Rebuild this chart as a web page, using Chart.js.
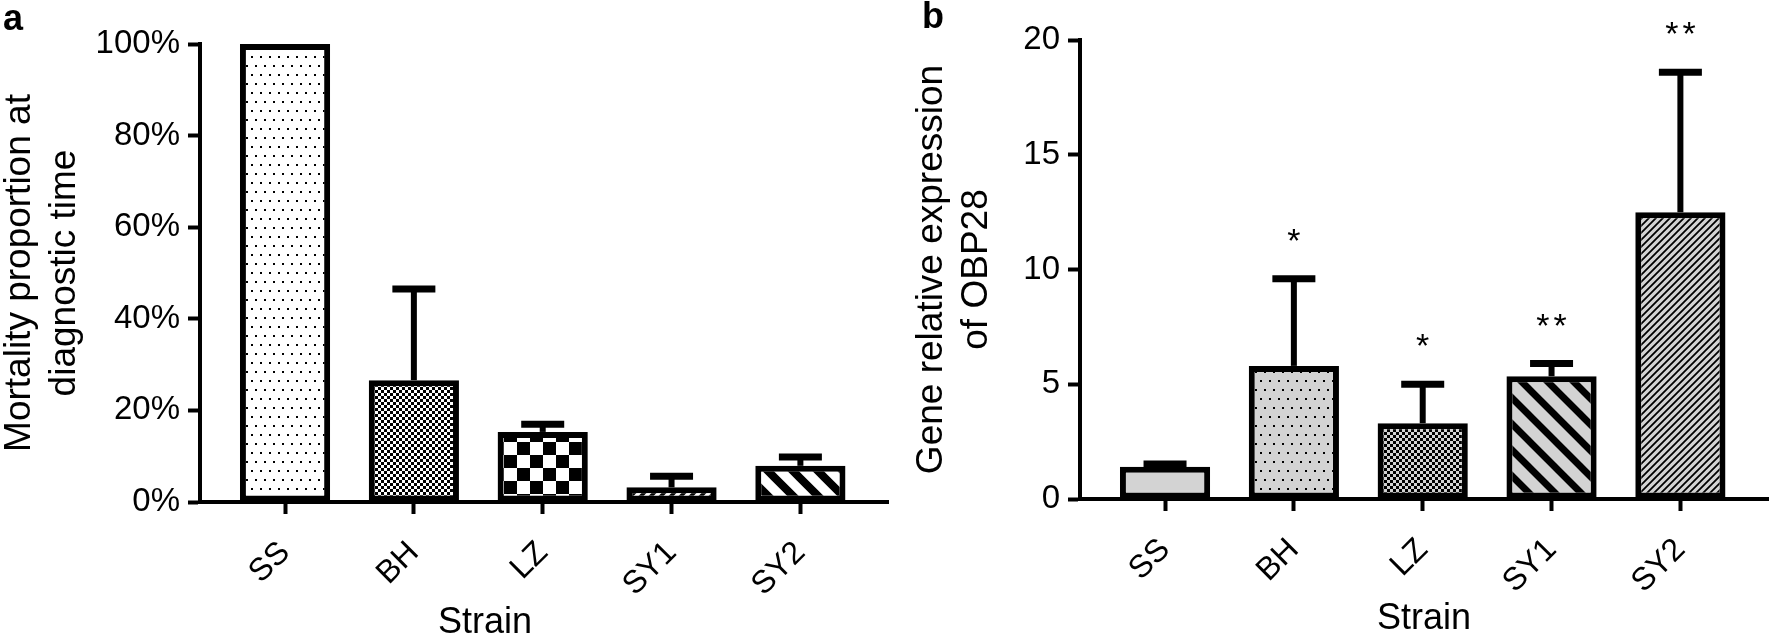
<!DOCTYPE html>
<html lang="en">
<head>
<meta charset="utf-8" />
<title>Mortality and OBP28 expression by strain</title>
<script src="https://cdn.jsdelivr.net/npm/chart.js@4.4.1/dist/chart.umd.min.js"></script>
<style>
  html, body { margin: 0; padding: 0; background: #fff; overflow: hidden; }
  #panelA { position: absolute; left: -3px; top: 0; }
  #panelB { position: absolute; left: 880px; top: 0; }
</style>
</head>
<body>
<canvas id="panelA" width="894" height="639"></canvas>
<canvas id="panelB" width="890" height="639"></canvas>
<script>
// data
const strains = ['SS', 'BH', 'LZ', 'SY1', 'SY2'];

const mortality = [100, 26.6, 15.3, 3.2, 7.9];
const mortalityErr = [0, 19.9, 1.7, 2.4, 1.9];
const mortalityTicks = [0, 20, 40, 60, 80, 100];

const expression = [1.4, 5.8, 3.3, 5.35, 12.5];
const expressionErr = [0.12, 3.8, 1.7, 0.55, 6.1];
const expressionTicks = [0, 5, 10, 15, 20];
const significance = ['', '*', '*', '**', '**'];

const FONT = '"Liberation Sans", Arial, Helvetica, sans-serif';
Chart.defaults.font.family = FONT;
Chart.defaults.color = '#000';

const GRAY = '#d3d3d3';

// ---- fill patterns ----
function makePattern(ctx, w, h, bg, draw) {
  const c = document.createElement('canvas');
  c.width = w; c.height = h;
  const g = c.getContext('2d');
  g.fillStyle = bg;
  g.fillRect(0, 0, w, h);
  g.fillStyle = '#000';
  g.strokeStyle = '#000';
  if (draw) draw(g, w, h);
  return ctx.createPattern(c, 'repeat');
}

function dots(g) {
  [[2, 2], [11, 2], [6, 11], [15, 11]].forEach(p => g.fillRect(p[0], p[1], 2, 2));
}

function checks(cell) {
  return g => {
    g.fillRect(0, 0, cell, cell);
    g.fillRect(cell, cell, cell, cell);
  };
}

// diagonal lines, drawn past the tile edges so the corners join up
function stripes(dir, lw) {
  return (g, w, h) => {
    g.lineWidth = lw;
    g.beginPath();
    for (let k = -1; k <= 1; k++) {
      if (dir === '/') { g.moveTo(k * w - w, 2 * h); g.lineTo(k * w + 2 * w, -h); }
      else { g.moveTo(k * w - w, -h); g.lineTo(k * w + 2 * w, 2 * h); }
    }
    g.stroke();
  };
}

// ---- helpers shared by both panels ----
function errorBars(values, errs, marks) {
  return {
    id: 'errorBars',
    afterDatasetsDraw(chart) {
      const { ctx, scales: { x, y } } = chart;
      ctx.save();
      ctx.strokeStyle = '#000';
      ctx.fillStyle = '#000';
      values.forEach((v, i) => {
        const px = x.getPixelForValue(i);
        const top = y.getPixelForValue(v + errs[i]);
        if (errs[i]) {
          const base = y.getPixelForValue(v);
          ctx.lineWidth = 6;
          ctx.beginPath(); ctx.moveTo(px, base); ctx.lineTo(px, top); ctx.stroke();
          ctx.lineWidth = 7;
          ctx.beginPath(); ctx.moveTo(px - 21.5, top); ctx.lineTo(px + 21.5, top); ctx.stroke();
        }
        if (marks && marks[i]) {
          ctx.font = '34px ' + FONT;
          ctx.textAlign = 'center';
          ctx.textBaseline = 'alphabetic';
          ctx.letterSpacing = '4px';
          ctx.fillText(marks[i], px + 2, top - 27);
        }
      });
      ctx.restore();
    }
  };
}

function textMarks(items) {
  return {
    id: 'textMarks',
    afterDraw(chart) {
      const ctx = chart.ctx;
      ctx.save();
      ctx.fillStyle = '#000';
      items.forEach(t => {
        ctx.font = t.font;
        ctx.textAlign = t.align || 'left';
        ctx.textBaseline = t.baseline || 'alphabetic';
        ctx.fillText(t.text, t.x, t.y);
      });
      ctx.restore();
    }
  };
}

function xAxis(height, showTitle) {
  return {
    type: 'linear',
    offset: false,
    min: -0.66,
    max: 4.68,
    afterBuildTicks: s => { s.ticks = strains.map((_, i) => ({ value: i })); },
    afterFit: s => { s.height = height; },
    ticks: {
      callback: v => strains[v],
      autoSkip: false,
      minRotation: 45,
      maxRotation: 45,
      padding: 20,
      font: { size: 32 }
    },
    grid: { offset: false, drawOnChartArea: false, tickLength: 12, tickWidth: 4, tickColor: '#000' },
    border: { color: '#000', width: 4 },
    title: {
      display: showTitle,
      text: 'Strain',
      font: { size: 36, lineHeight: 1.11 },
      padding: { top: 0, bottom: 0 }
    }
  };
}

function yAxis(width, tickVals, fmt, titleText, titlePad) {
  return {
    min: tickVals[0],
    max: tickVals[tickVals.length - 1],
    afterBuildTicks: s => { s.ticks = tickVals.map(v => ({ value: v })); },
    afterFit: s => { s.width = width; },
    ticks: { callback: fmt, padding: 8, font: { size: 33 } },
    grid: { drawOnChartArea: false, tickLength: 12, tickWidth: 4, tickColor: '#000' },
    border: { color: '#000', width: 4 },
    title: {
      display: true,
      text: titleText,
      font: { size: 37, lineHeight: 1.22 },
      padding: { top: titlePad, bottom: 0 }
    }
  };
}

function barSet(values, fills) {
  return {
    data: values.map((v, i) => ({ x: i, y: v })),
    backgroundColor: fills,
    borderColor: '#000',
    borderWidth: 6,
    borderSkipped: false,
    barPercentage: 0.7,
    categoryPercentage: 1
  };
}

// ---- panel a ----
const ctxA = document.getElementById('panelA').getContext('2d');
const fillsA = [
  makePattern(ctxA, 18, 18, '#fff', dots),
  makePattern(ctxA, 6, 6, '#fff', checks(3)),
  makePattern(ctxA, 26, 26, '#fff', checks(13)),
  makePattern(ctxA, 10, 10, '#fff', stripes('/', 3.5)),
  makePattern(ctxA, 25, 25, '#fff', stripes('\\', 8))
];

new Chart(ctxA, {
  type: 'bar',
  data: { datasets: [barSet(mortality, fillsA)] },
  options: {
    responsive: false,
    animation: false,
    layout: { padding: { top: 44, right: 3, bottom: 0, left: 0 } },
    plugins: { legend: { display: false }, tooltip: { enabled: false } },
    scales: {
      x: xAxis(137, false),
      y: yAxis(203, mortalityTicks, v => v + '%', ['Mortality proportion at', 'diagnostic time'], 0)
    }
  },
  plugins: [
    errorBars(mortality, mortalityErr, null),
    textMarks([
      { text: 'a', x: 6, y: 30, font: 'bold 36px ' + FONT },
      { text: 'Strain', x: 488, y: 623, align: 'center', baseline: 'middle', font: '36px ' + FONT }
    ])
  ]
});

// ---- panel b ----
const ctxB = document.getElementById('panelB').getContext('2d');
const fillsB = [
  GRAY,
  makePattern(ctxB, 18, 18, GRAY, dots),
  makePattern(ctxB, 6, 6, GRAY, checks(3)),
  makePattern(ctxB, 26, 26, GRAY, stripes('\\', 7)),
  makePattern(ctxB, 7, 7, GRAY, stripes('/', 1.8))
];

new Chart(ctxB, {
  type: 'bar',
  data: { datasets: [barSet(expression, fillsB)] },
  options: {
    responsive: false,
    animation: false,
    layout: { padding: { top: 40, right: 2, bottom: 0, left: 0 } },
    plugins: { legend: { display: false }, tooltip: { enabled: false } },
    scales: {
      x: xAxis(140, true),
      y: yAxis(200, expressionTicks, v => v, ['Gene relative expression', 'of OBP28'], 29.5)
    }
  },
  plugins: [
    errorBars(expression, expressionErr, significance),
    textMarks([
      { text: 'b', x: 42, y: 28, font: 'bold 36px ' + FONT }
    ])
  ]
});
</script>
</body>
</html>
